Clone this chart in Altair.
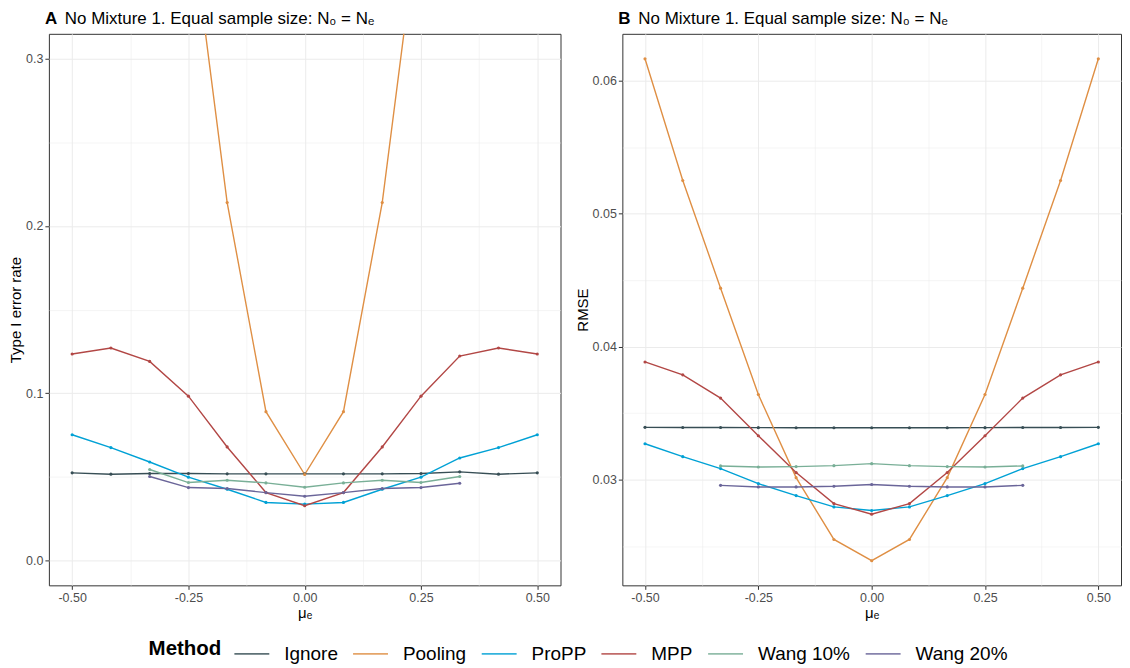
import altair as alt
import pandas as pd

# ---------------- data ----------------
methods = ["Ignore", "Pooling", "ProPP", "MPP", "Wang 10%", "Wang 20%"]
colors = ["#374E55", "#DF8F44", "#00A1D5", "#B24745", "#79AF97", "#6A6599"]

mu = [-0.5, -0.4167, -0.3333, -0.25, -0.1667, -0.0833, 0.0,
      0.0833, 0.1667, 0.25, 0.3333, 0.4167, 0.5]
mu_wang = [-0.3333, -0.25, -0.1667, -0.0833, 0.0, 0.0833, 0.1667, 0.25, 0.3333]

# Panel A: Type I error rate
ignore_t1 = [0.0523, 0.0515, 0.0519, 0.0519, 0.0517, 0.0517, 0.0517,
             0.0517, 0.0517, 0.0519, 0.0529, 0.0515, 0.0523]
pooling_t1 = [0.97, 0.90, 0.72, 0.395, 0.214, 0.0889, 0.0513,
              0.0889, 0.214, 0.395, 0.72, 0.90, 0.97]
propp_t1 = [0.0751, 0.0674, 0.0588, 0.0497, 0.0425, 0.0346, 0.0336,
            0.0346, 0.0425, 0.0497, 0.0612, 0.0674, 0.0751]
mpp_t1 = [0.1234, 0.1270, 0.1190, 0.0982, 0.0678, 0.0405, 0.0326,
          0.0405, 0.0678, 0.0982, 0.1222, 0.1270, 0.1234]
wang10_t1 = [0.0543, 0.0465, 0.0479, 0.0463, 0.0437, 0.0463, 0.0479, 0.0465, 0.0501]
wang20_t1 = [0.0501, 0.0435, 0.0429, 0.0405, 0.0383, 0.0405, 0.0429, 0.0435, 0.0461]

# Panel B: RMSE
ignore_r = [0.03393, 0.03392, 0.03392, 0.03391, 0.0339, 0.0339, 0.0339,
            0.0339, 0.0339, 0.03391, 0.03392, 0.03392, 0.03393]
pooling_r = [0.06165, 0.0525, 0.0444, 0.0364, 0.03015, 0.0255, 0.0239,
             0.0255, 0.03015, 0.0364, 0.0444, 0.0525, 0.06165]
propp_r = [0.0327, 0.03173, 0.03083, 0.0297, 0.0288, 0.02795, 0.02768,
           0.02795, 0.0288, 0.0297, 0.03083, 0.03173, 0.0327]
mpp_r = [0.03885, 0.03788, 0.03613, 0.0333, 0.03053, 0.0282, 0.0274,
         0.0282, 0.03053, 0.0333, 0.03613, 0.03788, 0.03885]
wang10_r = [0.03103, 0.03095, 0.03098, 0.03105, 0.0312, 0.03105, 0.03098, 0.03095, 0.03103]
wang20_r = [0.02957, 0.02945, 0.02945, 0.0295, 0.02963, 0.0295, 0.02945, 0.02945, 0.02957]

# axis breaks (major + minor grid)
x_breaks = [-0.5, -0.375, -0.25, -0.125, 0.0, 0.125, 0.25, 0.375, 0.5]
yA_breaks = [0.0, 0.05, 0.1, 0.15, 0.2, 0.25, 0.3]
yB_breaks = [0.025, 0.03, 0.035, 0.04, 0.045, 0.05, 0.055, 0.06]

title_text = "No Mixture 1. Equal sample size: N\u2080 = N\u2091"
FONT = "Liberation Sans"


def long_df(series_list):
    rows = []
    for m, xs, ys in series_list:
        for xv, yv in zip(xs, ys):
            rows.append({"mu": xv, "value": yv, "Method": m})
    return pd.DataFrame(rows)


dfA = long_df([("Ignore", mu, ignore_t1), ("Pooling", mu, pooling_t1),
               ("ProPP", mu, propp_t1), ("MPP", mu, mpp_t1),
               ("Wang 10%", mu_wang, wang10_t1), ("Wang 20%", mu_wang, wang20_t1)])
dfB = long_df([("Ignore", mu, ignore_r), ("Pooling", mu, pooling_r),
               ("ProPP", mu, propp_r), ("MPP", mu, mpp_r),
               ("Wang 10%", mu_wang, wang10_r), ("Wang 20%", mu_wang, wang20_r)])

color = alt.Color("Method:N", scale=alt.Scale(domain=methods, range=colors),
                  sort=methods,
                  legend=alt.Legend(orient="none", legendX=100, legendY=603,
                                    direction="horizontal", title="Method"))


def grid_w(test):
    return {"condition": {"test": test, "value": 1.0}, "value": 0.5}


def tick_op(test):
    return {"condition": {"test": test, "value": 1.0}, "value": 0.0}


x_major = "abs(datum.value*4 - round(datum.value*4)) < 1e-6"
x_axis = alt.Axis(values=x_breaks, title="\u03bc\u2091",
                  labelExpr=f"({x_major}) ? ((datum.value < 0 ? '-' : '') + format(abs(datum.value), '.2f')) : ''",
                  gridWidth=grid_w(x_major), tickOpacity=tick_op(x_major))
x_scale = alt.Scale(domain=[-0.55, 0.55], nice=False, zero=False)


def panel(df, y_title, y_domain, y_breaks, y_major, y_fmt):
    y_axis = alt.Axis(values=y_breaks, title=y_title,
                      labelExpr=f"({y_major}) ? format(datum.value, '{y_fmt}') : ''",
                      gridWidth=grid_w(y_major), tickOpacity=tick_op(y_major))
    y_scale = alt.Scale(domain=y_domain, nice=False, zero=False)
    base = alt.Chart(df).encode(
        x=alt.X("mu:Q", scale=x_scale, axis=x_axis),
        y=alt.Y("value:Q", scale=y_scale, axis=y_axis),
        color=color,
    )
    lines = base.mark_line(strokeWidth=1.4, clip=True)
    pts = base.mark_point(filled=True, size=10, opacity=1, clip=True)
    return (lines + pts)


def heading(letter):
    d = pd.DataFrame({"t": [letter], "s": [title_text]})
    a = alt.Chart(d).mark_text(
        fontWeight="bold", fontSize=17, font=FONT, align="left",
        baseline="alphabetic", color="black"
    ).encode(text="t:N", x=alt.value(-4), y=alt.value(-10))
    b = alt.Chart(d).mark_text(
        fontWeight="normal", fontSize=17, font=FONT, align="left",
        baseline="alphabetic", color="black"
    ).encode(text="s:N", x=alt.value(16), y=alt.value(-10))
    return a + b


pA = alt.layer(panel(dfA, "Type I error rate", [-0.015, 0.315], yA_breaks,
                     "abs(datum.value*10 - round(datum.value*10)) < 1e-6", ".1f"),
               heading("A")).properties(width=513, height=553)

pB = alt.layer(panel(dfB, "RMSE", [0.02205, 0.06353], yB_breaks,
                     "abs(datum.value*100 - round(datum.value*100)) < 1e-6", ".2f"),
               heading("B")).properties(width=500, height=553)

chart = alt.hconcat(pA, pB, spacing=13).properties(
    padding=0, background="white"
).configure_view(
    stroke="#333333", strokeWidth=1
).configure_axis(
    domain=False, tickColor="#333333", tickSize=4, tickWidth=1,
    labelColor="#4D4D4D", labelFontSize=12.5, labelFont=FONT, labelPadding=2,
    titleFont=FONT, titleFontSize=15, titleFontWeight="normal", titleColor="black",
    gridColor="#EBEBEB",
).configure_axisY(titlePadding=2).configure_axisX(titlePadding=2).configure_legend(
    titleFont=FONT, titleFontSize=20.5, titleFontWeight="bold", titleColor="black",
    titleOrient="left", titlePadding=12, titleAnchor="middle", titleBaseline="middle",
    labelFont=FONT, labelFontSize=19, labelColor="black", labelOffset=14,
    symbolType="stroke", symbolSize=1225, symbolStrokeWidth=1.8, symbolOpacity=0.8,
    columnPadding=11,
)

chart.save("out.html", embed_options={"renderer": "svg", "actions": False})
